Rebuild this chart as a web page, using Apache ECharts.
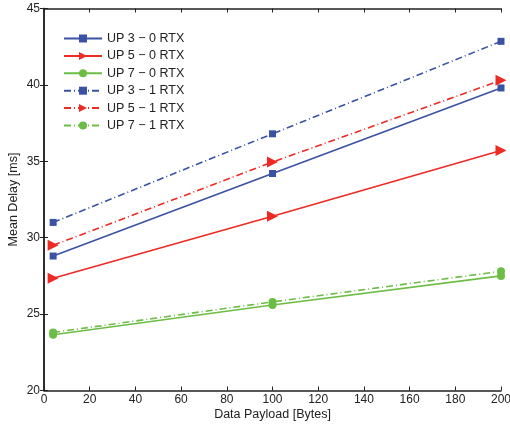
<!DOCTYPE html>
<html><head><meta charset="utf-8">
<script src="https://cdn.jsdelivr.net/npm/echarts@6/dist/echarts.min.js"></script>
<style>html,body{margin:0;padding:0;background:#fff}#c{width:510px;height:428px}</style>
</head><body><div id="c"></div>
<script>
var payload = [4, 100, 200];
var up3_0 = [28.8, 34.2, 39.8];
var up5_0 = [27.35, 31.4, 35.7];
var up7_0 = [23.65, 25.6, 27.5];
var up3_1 = [31.0, 36.8, 42.85];
var up5_1 = [29.5, 34.95, 40.3];
var up7_1 = [23.8, 25.8, 27.8];
var names = ['UP 3 \u2212 0 RTX','UP 5 \u2212 0 RTX','UP 7 \u2212 0 RTX','UP 3 \u2212 1 RTX','UP 5 \u2212 1 RTX','UP 7 \u2212 1 RTX'];

var BLUE='#3A52A3', RED='#EE2A24', GREEN='#6CBD45';
var DASHDOT=[7,3,1,3];
function pts(v){return payload.map(function(x,i){return [x,v[i]];});}
function mk(name,data,color,sym,size,dash,rot){
  return {name:name,type:'line',data:pts(data),symbol:sym,symbolSize:size,symbolRotate:rot||0,
    lineStyle:{color:color,width:1.6,type:dash},itemStyle:{color:color},
    showSymbol:true,animation:false,z:3};
}
var chart=echarts.init(document.getElementById('c'));
var font='Liberation Sans';
var axLine={show:true,lineStyle:{color:'#222',width:1.5}};
chart.setOption({
  animation:false,
  textStyle:{fontFamily:font},
  grid:{left:44,right:9,top:8.5,bottom:37.5,containLabel:false,outerBoundsMode:'none'},
  legend:{left:58,top:27,orient:'vertical',itemWidth:38,itemHeight:10,itemGap:4.4,
    textStyle:{fontFamily:font,fontSize:12.5,color:'#222'},data:names},
  xAxis:[{type:'value',min:0,max:200,interval:20,
    name:'Data Payload [Bytes]',nameLocation:'middle',nameGap:17.5,nameMoveOverlap:false,
    nameTextStyle:{fontFamily:font,fontSize:12.5,color:'#222'},
    axisLine:axLine,axisTick:{inside:true,length:4,lineStyle:{color:'#222'}},
    axisLabel:{fontFamily:font,fontSize:12,color:'#222',margin:3},splitLine:{show:false}},
   {type:'value',position:'top',min:0,max:200,interval:20,axisLine:axLine,
    axisTick:{inside:true,length:4,lineStyle:{color:'#222'}},axisLabel:{show:false},splitLine:{show:false}}],
  yAxis:[{type:'value',min:20,max:45,interval:5,
    name:'Mean Delay [ms]',nameLocation:'middle',nameGap:23.5,nameMoveOverlap:false,
    nameTextStyle:{fontFamily:font,fontSize:12.5,color:'#222'},
    axisLine:axLine,axisTick:{inside:true,length:4,lineStyle:{color:'#222'}},
    axisLabel:{fontFamily:font,fontSize:12,color:'#222',margin:4},splitLine:{show:false}},
   {type:'value',position:'right',min:20,max:45,interval:5,axisLine:axLine,
    axisTick:{inside:true,length:4,lineStyle:{color:'#222'}},axisLabel:{show:false},splitLine:{show:false}}],
  series:[
    mk(names[0],up3_0,BLUE,'rect',7,'solid'),
    mk(names[1],up5_0,RED,'triangle',11,'solid',-90),
    mk(names[2],up7_0,GREEN,'circle',8,'solid'),
    mk(names[3],up3_1,BLUE,'rect',7,DASHDOT),
    mk(names[4],up5_1,RED,'triangle',11,DASHDOT,-90),
    mk(names[5],up7_1,GREEN,'circle',8,DASHDOT)
  ]
});
</script></body></html>
